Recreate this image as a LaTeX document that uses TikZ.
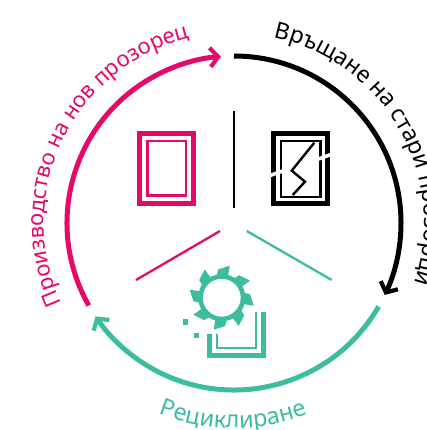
\documentclass[tikz,border=0pt]{standalone}
\usepackage{fontspec}
\usetikzlibrary{arrows.meta,decorations.text}
\newfontfamily\labfont{Noto Sans}
\definecolor{wpink}{HTML}{E5096A}
\definecolor{wgreen}{HTML}{3CBD9E}
\tikzset{
  bigarc/.style={line width=5pt,-{Straight Barb[length=8pt,width=19pt,line width=4.2pt]}},
  frame/.style={line width=5pt,miter limit=10},
  innerframe/.style={line width=2.4pt},
  divider/.style={line width=2.3pt},
  arctext/.style={decorate,decoration={text along path,text align=left,text={#1}}}
}
\begin{document}
\begin{tikzpicture}[x=1pt,y=1pt]
\useasboundingbox (0,-430) rectangle (426,0);
\clip (0,-430) rectangle (426,0);
% big arcs
\begin{scope}[shift={(234,-223)}]
\draw[bigarc,black] (90:167) arc (90:-25.5:167);
\draw[bigarc,wpink] (209.6:167) arc (209.6:94.5:167);
\draw[bigarc,wgreen] (-30:167) arc (-30:-146:167);
% arc labels
\path[arctext={|\labfont\fontsize{23}{23}\selectfont\color{black}|Връщане на стари прозорци}] (78:190) arc (78:-40:190);
\path[arctext={|\labfont\fontsize{22}{22}\selectfont\color{wpink}|Производство на нов прозорец}] (205:190) arc (205:90:190);
\path[arctext={|\labfont\fontsize{23.5}{23.5}\selectfont\color{wgreen}|Рециклиране}] (248.5:205) arc (248.5:295:205);
\end{scope}
% dividers
\draw[divider,black] (233.7,-110.7) -- (233.7,-208);
\draw[divider,wpink] (136,-280) -- (220,-231);
\draw[divider,wgreen] (246.7,-231) -- (331.7,-280);
% new window
\draw[frame,wpink] (139.8,-133.5) rectangle (193.5,-203.5);
\draw[innerframe,wpink] (147.5,-141.2) rectangle (186.2,-195.5);
% broken window
\draw[frame,black] (273.5,-133.5) rectangle (327.5,-203.5);
\draw[innerframe,black] (281.2,-141.2) rectangle (320.5,-197);
\draw[line width=3.6pt,white] (270,-175.5) -- (284,-170.5);
\draw[line width=3.6pt,white] (317,-159.5) -- (331,-154.5);
\draw[innerframe,black,line join=miter] (314.3,-142.7) -- (291.7,-170.7) -- (305,-181.7) -- (292.7,-195);
% tray
\draw[line width=5pt,wgreen] (209.8,-334) -- (209.8,-355.5) -- (263.3,-355.5) -- (263.3,-311.7);
\draw[innerframe,wgreen] (217,-334) -- (217,-347.8) -- (256.2,-347.8) -- (256.2,-311.7);
\fill[wgreen] (182.7,-319) rectangle (188.3,-324.7);
\fill[wgreen] (194,-333.3) rectangle (199.3,-338.3);
% gear
\begin{scope}[shift={(221.7,-297.7)}]
\draw[wgreen,line width=4.6pt] (0,0) circle (21.3);
\foreach \a in {-149,-104,...,166}{
  \fill[wgreen] (\a-3:21) -- (\a:33) -- (\a+21:28.5) -- (\a+29:21) -- cycle;
}
\end{scope}
\end{tikzpicture}
\end{document}
